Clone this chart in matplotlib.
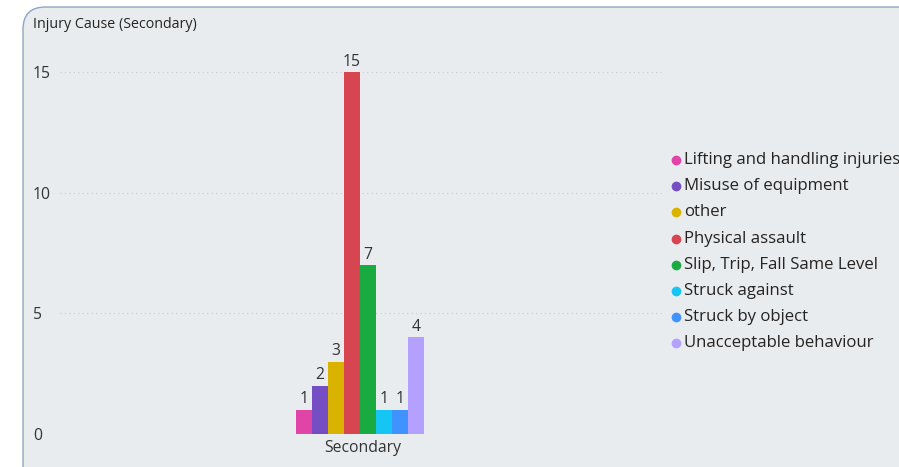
import matplotlib.pyplot as plt
from matplotlib.patches import FancyBboxPatch
from matplotlib.lines import Line2D

# --- data ---
categories = ['Lifting and handling injuries', 'Misuse of equipment', 'other',
              'Physical assault', 'Slip, Trip, Fall Same Level', 'Struck against',
              'Struck by object', 'Unacceptable behaviour']
counts = [1, 2, 3, 15, 7, 1, 1, 4]
group_label = 'Secondary'
y_ticks = [0, 5, 10, 15]
colors = ['#E044A7', '#744EC2', '#D9B300', '#D64550', '#1AAB40',
          '#15C6F4', '#4092FF', '#B4A0FF']

W, H = 899, 467
plt.rcParams['font.family'] = ['Open Sans', 'DejaVu Sans']

fig = plt.figure(figsize=(W / 100, H / 100), dpi=100)
fig.patch.set_facecolor('white')

# card background
card = FancyBboxPatch((23 / W, -20 / H), 900 / W, (H + 20 - 7) / H,
                      boxstyle='round,pad=0,rounding_size=0.025',
                      transform=fig.transFigure, facecolor='#E9ECEF',
                      edgecolor='#8DA6C4', linewidth=1.0, zorder=-5,
                      mutation_aspect=W / H)
fig.patches.append(card)

fig.text(33 / W, 1 - 25 / H, 'Injury Cause (Secondary)', fontsize=10.3,
         color='#252423', va='center', ha='left')

# plot area in pixels: x 60..665, y 43..434
ax = fig.add_axes([60 / W, 33 / H, 605 / W, 391 / H])
ax.set_zorder(2)
ax.set_facecolor('none')
bar_w = 16 / 605
n = len(counts)
for i, (v, c) in enumerate(zip(counts, colors)):
    x = (i - (n - 1) / 2) * bar_w - 0.004
    ax.bar(x, v, width=bar_w, color=c, zorder=3)
    ax.text(x, v + 0.1, str(v), ha='center', va='bottom', fontsize=11.3,
            color='#333333')

ax.set_xlim(-0.5, 0.5)
ax.set_ylim(0, 391 / 24.13)
ax.set_yticks(y_ticks)
ax.set_xticks([0])
ax.set_xticklabels([group_label])
ax.tick_params(axis='both', length=0, labelsize=11.3, colors='#333333')
for lbl in ax.get_yticklabels():
    lbl.set_horizontalalignment('left')
ax.yaxis.set_tick_params(pad=19.4)
ax.tick_params(axis='x', pad=4)
ax.grid(axis='y', linestyle=(0, (1, 3)), color='#C8C8C8', linewidth=0.8, zorder=0)
for s in ax.spines.values():
    s.set_visible(False)

# legend
for i, (cat, c) in enumerate(zip(categories, colors)):
    yp = 1 - (160 + i * 26.2) / H
    fig.add_artist(Line2D([676 / W], [yp], marker='o', markersize=6,
                          color=c, transform=fig.transFigure, linestyle='none'))
    fig.text(684 / W, yp, cat, color='#252423', fontsize=12.1, ha='left',
             va='center')

fig.savefig('out.png', dpi=100)
